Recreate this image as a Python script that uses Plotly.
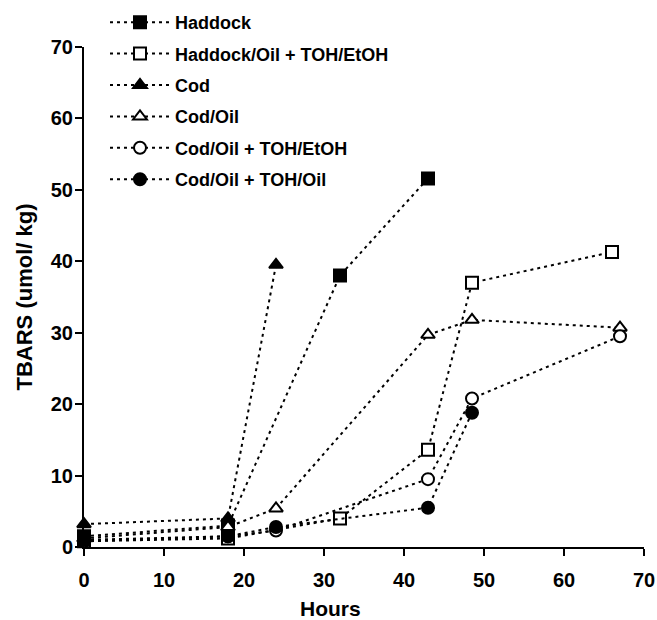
import plotly.graph_objects as go

series_names = ["Haddock", "Haddock/Oil + TOH/EtOH", "Cod", "Cod/Oil",
                "Cod/Oil + TOH/EtOH", "Cod/Oil + TOH/Oil"]

haddock_x = [0, 18, 32, 43]
haddock_y = [1.5, 3.0, 38.0, 51.6]

haddock_oil_x = [0, 18, 32, 43, 48.5, 66]
haddock_oil_y = [0.8, 1.2, 4.0, 13.6, 37.0, 41.3]

cod_x = [0, 18, 24]
cod_y = [3.2, 4.0, 39.5]

cod_oil_x = [0, 18, 24, 43, 48.5, 67]
cod_oil_y = [1.2, 2.8, 5.4, 29.7, 31.8, 30.7]

cod_etoh_x = [0, 18, 24, 43, 48.5, 67]
cod_etoh_y = [0.8, 1.5, 2.3, 9.5, 20.8, 29.5]

cod_toh_oil_x = [0, 18, 24, 43, 48.5]
cod_toh_oil_y = [1.0, 1.5, 2.8, 5.5, 18.8]

x_ticks = [0, 10, 20, 30, 40, 50, 60, 70]
y_ticks = [0, 10, 20, 30, 40, 50, 60, 70]

xs = [haddock_x, haddock_oil_x, cod_x, cod_oil_x, cod_etoh_x, cod_toh_oil_x]
ys = [haddock_y, haddock_oil_y, cod_y, cod_oil_y, cod_etoh_y, cod_toh_oil_y]
symbols = ["square", "square-open", "triangle-up", "triangle-up-open",
           "circle-open", "circle"]

fig = go.Figure()
for i, (name, x, y, sym) in enumerate(zip(series_names, xs, ys, symbols)):
    is_open = sym.endswith("-open")
    fig.add_trace(go.Scatter(
        x=x, y=y, name=name, mode="lines+markers",
        legendgroup=f"g{i}",
        line=dict(color="black", width=2, dash="3px,4px"),
        marker=dict(symbol=sym.replace("-open", ""),
                    size=12,
                    color="white" if is_open else "black",
                    line=dict(color="black", width=2)),
        cliponaxis=False,
    ))

font_family = "Liberation Sans, Arial, sans-serif"
fig.update_layout(
    width=657, height=620,
    margin=dict(l=84, r=13, t=47, b=73, autoexpand=False),
    plot_bgcolor="white", paper_bgcolor="white",
    font=dict(family=font_family, color="black", size=20),
    showlegend=True,
    legend=dict(x=0.0375, y=1.086, xanchor="left", yanchor="top",
                bgcolor="rgba(0,0,0,0)", itemwidth=60,
                tracegroupgap=5,
                font=dict(family=font_family, size=18, color="black", weight="bold")),
    xaxis=dict(range=[0, 70], tickvals=x_ticks, ticktext=[str(v) for v in x_ticks],
               showline=True, linecolor="black", linewidth=2,
               ticks="outside", ticklen=7, tickwidth=2, tickcolor="black",
               showgrid=False, zeroline=False, automargin=False,
               ticklabelstandoff=7,
               tickfont=dict(size=20, weight="bold")),
    yaxis=dict(range=[0, 70], tickvals=y_ticks, ticktext=[str(v) for v in y_ticks],
               showline=True, linecolor="black", linewidth=2,
               ticks="outside", ticklen=7, tickwidth=2, tickcolor="black",
               showgrid=False, zeroline=False, automargin=False,
               ticklabelstandoff=-2,
               tickfont=dict(size=20, weight="bold"),
               title=dict(text="<b>TBARS (umol/ kg)</b>", font=dict(size=22), standoff=12)),
    annotations=[dict(text="<b>Hours</b>", xref="paper", yref="paper",
                      x=0.441, y=-0.123, xanchor="center", yanchor="middle",
                      showarrow=False, font=dict(size=21))],
)

# remove the default page margin so the 657x620 figure fills the window exactly
fig.write_html(
    "out.html",
    config={"displayModeBar": False},
    post_script="document.body.style.margin='0';document.body.style.overflow='hidden';",
)
